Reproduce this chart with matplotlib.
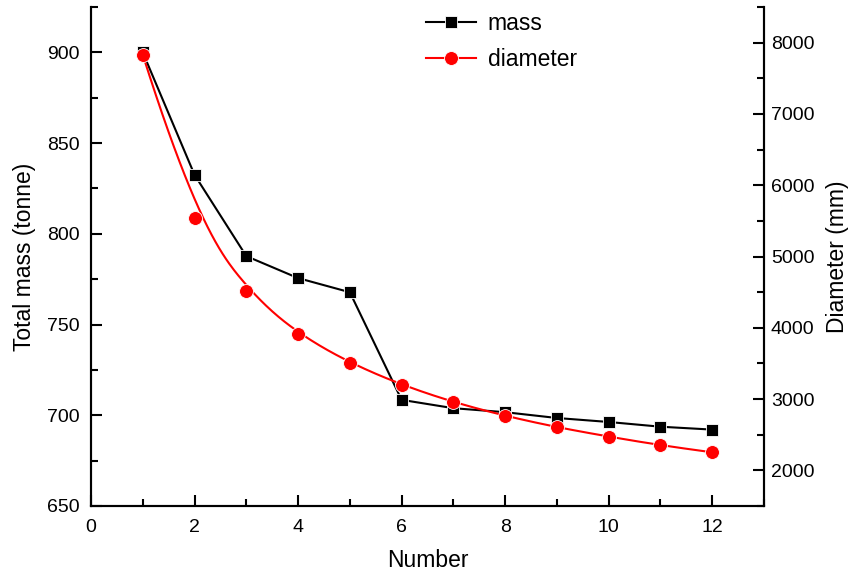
import numpy as np
import matplotlib
matplotlib.use('Agg')
import matplotlib.pyplot as plt
from matplotlib.ticker import MultipleLocator

plt.rcParams['font.family'] = ['Liberation Sans', 'DejaVu Sans']

number = [1, 2, 3, 4, 5, 6, 7, 8, 9, 10, 11, 12]
mass = [900, 832.5, 787.7, 775.6, 767.8, 708.5, 703.9, 701.7, 698.5, 696.3, 693.7, 692.1]
diameter = [7830, 5540, 4516, 3913, 3506, 3198, 2955, 2763, 2604, 2473, 2351, 2253]


def bspline(px, py, n=400, k=3):
    # clamped cubic B-spline on the points (Origin-style smooth line)
    px = np.asarray(px, float)
    py = np.asarray(py, float)
    m = len(px)
    knots = np.concatenate([np.zeros(k), np.linspace(0, 1, m - k + 1), np.ones(k)])
    t = np.linspace(0, 1, n)
    t[-1] -= 1e-9
    N = ((knots[:-1] <= t[:, None]) & (t[:, None] < knots[1:])).astype(float)
    for d in range(1, k + 1):
        Nn = np.zeros((n, len(knots) - 1 - d))
        for i in range(len(knots) - 1 - d):
            a = knots[i + d] - knots[i]
            b = knots[i + d + 1] - knots[i + 1]
            term = np.zeros(n)
            if a > 0:
                term += (t - knots[i]) / a * N[:, i]
            if b > 0:
                term += (knots[i + d + 1] - t) / b * N[:, i + 1]
            Nn[:, i] = term
        N = Nn
    return N @ px, N @ py


fig = plt.figure(figsize=(8.49, 5.78), dpi=100)
ax = fig.add_axes([91 / 849, 1 - 506 / 578, (764 - 91) / 849, (506 - 7) / 578])
ax2 = ax.twinx()

l1, = ax.plot(number, mass, color='black', linewidth=1.5, marker='s',
              markersize=9, markeredgecolor='white', markeredgewidth=0.6,
              label='mass')
sx, sy = bspline(number, diameter)
ax2.plot(sx, sy, color='red', linewidth=1.5)
ax2.plot(number, diameter, linestyle='none', color='red', marker='o',
         markersize=10, markeredgecolor='white', markeredgewidth=0.6)
l2, = ax2.plot([], [], color='red', linewidth=1.5, marker='o', markersize=10,
               markeredgecolor='white', markeredgewidth=0.6, label='diameter')

ax.set_xlim(0, 13)
ax.set_ylim(650, 925)
ax2.set_ylim(1500, 8500)

ax.xaxis.set_major_locator(MultipleLocator(2))
ax.xaxis.set_minor_locator(MultipleLocator(1))
ax.yaxis.set_major_locator(MultipleLocator(50))
ax.yaxis.set_minor_locator(MultipleLocator(25))
ax2.yaxis.set_major_locator(MultipleLocator(1000))
ax2.yaxis.set_minor_locator(MultipleLocator(500))

for a in (ax, ax2):
    a.spines['top'].set_visible(False)
    for s in a.spines.values():
        s.set_linewidth(1.5)
    a.tick_params(which='major', direction='in', length=8, width=1.5, labelsize=14, pad=8)
    a.tick_params(which='minor', direction='in', length=5, width=1.5)
ax.tick_params(axis='x', pad=9)
ax2.tick_params(axis='y', pad=5)
ax.tick_params(axis='y', which='both', right=False)
ax.tick_params(axis='x', which='both', top=False)

ax.set_xlabel('Number', fontsize=16.5, labelpad=10)
ax.set_ylabel('Total mass (tonne)', fontsize=16.5, labelpad=8)
ax2.set_ylabel('Diameter (mm)', fontsize=16.5, labelpad=8)

fig.legend(handles=[l1, l2], loc='upper left', bbox_to_anchor=(410 / 849, 1 + 4 / 578),
           frameon=False, fontsize=16.5, handlelength=2.2, handletextpad=0.5,
           labelspacing=0.55, borderpad=0.2)

fig.savefig('out.png', dpi=100)
